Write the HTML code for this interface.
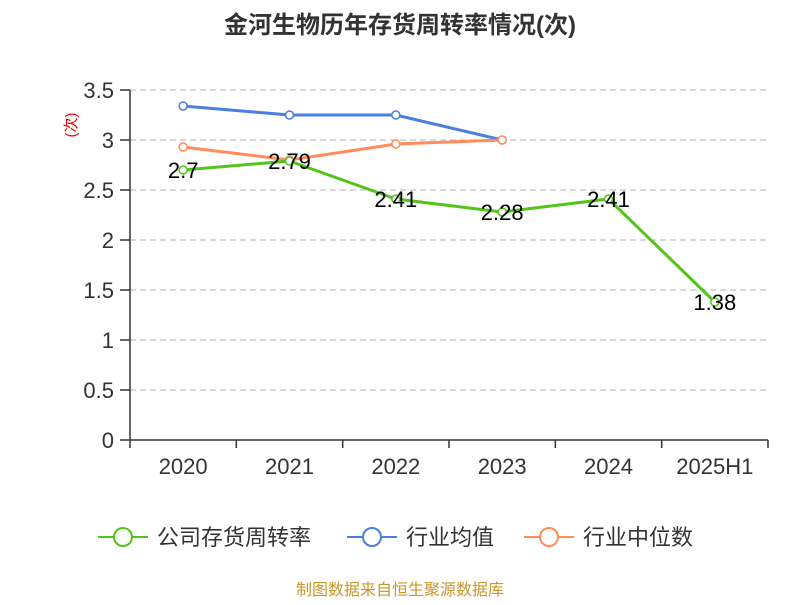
<!DOCTYPE html>
<html><head><meta charset="utf-8"><style>
body{margin:0;background:#fff;font-family:"Liberation Sans","Noto Sans CJK SC",sans-serif}
</style></head><body>
<svg width="800" height="600" xmlns="http://www.w3.org/2000/svg" font-family="Liberation Sans, Noto Sans CJK SC, sans-serif">
<text x="400" y="33" text-anchor="middle" font-size="24" font-weight="bold" fill="#333">金河生物历年存货周转率情况(次)</text>
<text transform="translate(76,125) rotate(-90)" text-anchor="middle" font-size="15" fill="#e00">(次)</text>
<g id="grid"></g><g id="axes"></g><g id="series"></g>
<g>
<g><line x1="98" y1="537" x2="148" y2="537" stroke="#52c41a" stroke-width="2"/><circle cx="123" cy="537" r="9" fill="#fff" stroke="#52c41a" stroke-width="2"/><text x="157" y="545" font-size="22" fill="#333">公司存货周转率</text></g>
<g><line x1="347" y1="537" x2="397" y2="537" stroke="#4a7ee0" stroke-width="2"/><circle cx="372" cy="537" r="9" fill="#fff" stroke="#4a7ee0" stroke-width="2"/><text x="406" y="545" font-size="22" fill="#333">行业均值</text></g>
<g><line x1="524" y1="537" x2="574" y2="537" stroke="#ff8c5a" stroke-width="2"/><circle cx="549" cy="537" r="9" fill="#fff" stroke="#ff8c5a" stroke-width="2"/><text x="583" y="545" font-size="22" fill="#333">行业中位数</text></g>
</g>
<text x="400" y="595" text-anchor="middle" font-size="16" fill="#c8962a">制图数据来自恒生聚源数据库</text>
</svg>
<script>
const categories=["2020","2021","2022","2023","2024","2025H1"];
const company=[2.7,2.79,2.41,2.28,2.41,1.38];
const industryAvg=[3.34,3.25,3.25,3.0];
const industryMedian=[2.93,2.8,2.96,3.0];
const yTicks=[0,0.5,1,1.5,2,2.5,3,3.5];
const NS="http://www.w3.org/2000/svg";
const L=130,R=768,T=90,B=440,ymax=3.5;
const bw=(R-L)/categories.length;
const x=i=>L+bw*(i+0.5);
const y=v=>B-(v/ymax)*(B-T);
function mk(p,tag,a){const e=document.createElementNS(NS,tag);for(const k in a)e.setAttribute(k,a[k]);p.appendChild(e);return e;}
const grid=document.getElementById('grid'),axes=document.getElementById('axes'),ser=document.getElementById('series');
yTicks.forEach(t=>{
 if(t>0){const g=mk(grid,'line',{x1:L,x2:R,y1:y(t),y2:y(t),stroke:'#ccc','stroke-dasharray':'6,4','stroke-width':1.5});
 
 }
 const tk=mk(axes,'line',{x1:120,x2:L,y1:y(t),y2:y(t),stroke:'#333','stroke-width':1.5});
 
 
 const tx=mk(axes,'text',{x:114,y:y(t)+8,'text-anchor':'end','font-size':22,fill:'#333'});tx.textContent=t;
 
 
});
const ya=mk(axes,'line',{x1:L,x2:L,y1:T,y2:B,stroke:'#333','stroke-width':1.5});


const xa=mk(axes,'line',{x1:L,x2:R,y1:B,y2:B,stroke:'#333','stroke-width':1.5});


for(let i=0;i<=categories.length;i++){const tk=mk(axes,'line',{x1:L+bw*i,x2:L+bw*i,y1:B,y2:B+8,stroke:'#333','stroke-width':1.5});
 
 }
categories.forEach((c,i)=>{const tx=mk(axes,'text',{x:x(i),y:474,'text-anchor':'middle','font-size':22,fill:'#333'});tx.textContent=c;
 
 });
function series(vals,color,name,labels){
 const g=mk(ser,'g',{});
 
 
 mk(g,'polyline',{points:vals.map((v,i)=>x(i)+','+y(v)).join(' '),fill:'none',stroke:color,'stroke-width':3});
 vals.forEach((v,i)=>{const c=mk(g,'circle',{cx:x(i),cy:y(v),r:4,fill:'#fff',stroke:color,'stroke-width':1.5});
  
  
  if(labels){const t=mk(g,'text',{x:x(i),y:y(v)+8,'text-anchor':'middle','font-size':22,fill:'#000'});t.textContent=v;
  
  }});
}
series(industryAvg,'#4a7ee0','industry-avg-line',false);
series(industryMedian,'#ff8c5a','industry-median-line',false);
series(company,'#52c41a','company-line',true);
</script>
</body></html>
